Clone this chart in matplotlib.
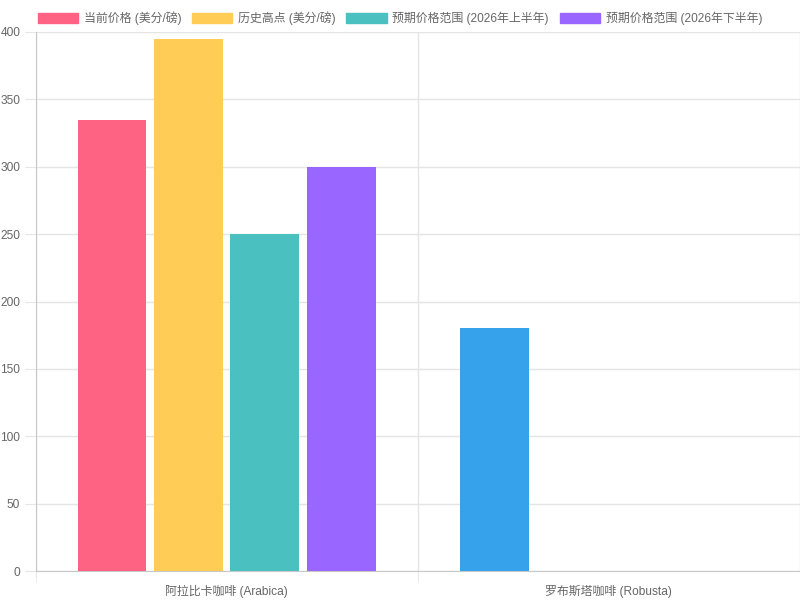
import matplotlib.pyplot as plt
from matplotlib.patches import Patch
import numpy as np

plt.rcParams['font.family'] = ['Liberation Sans', 'Noto Sans CJK SC', 'DejaVu Sans']

categories = ['阿拉比卡咖啡 (Arabica)', '罗布斯塔咖啡 (Robusta)']
series_names = ['当前价格 (美分/磅)', '历史高点 (美分/磅)',
                '预期价格范围 (2026年上半年)', '预期价格范围 (2026年下半年)']
current = [335, 180]
high = [395, 0]
h1_2026 = [250, 0]
h2_2026 = [300, 0]
series = [current, high, h1_2026, h2_2026]
legend_colors = ['#FF6384', '#FFCD56', '#4BC0C0', '#9966FF']
bar_colors = [['#FF6384', '#36A2EB'], ['#FFCD56'] * 2, ['#4BC0C0'] * 2, ['#9966FF'] * 2]
yticks = [0, 50, 100, 150, 200, 250, 300, 350, 400]

fs = 8.6

fig = plt.figure(figsize=(8, 6), dpi=100)
ax = fig.add_axes([35.5 / 800, 29 / 600, 764.5 / 800, 539 / 600])

x = np.arange(len(categories))
slot = 0.8 / 4
width = slot * 0.9
for i, vals in enumerate(series):
    offs = -0.4 + slot * (i + 0.5)
    ax.bar(x + offs, vals, width, color=bar_colors[i], zorder=3)

ax.set_xlim(-0.5, 1.5)
ax.set_ylim(0, 400)
ax.set_yticks(yticks)
ax.set_xticks(x)
ax.set_xticklabels(categories)
ax.set_xticks([-0.5, 0.5, 1.5], minor=True)

ax.grid(axis='y', color='#e5e5e5', linewidth=1, zorder=0)
ax.grid(axis='x', which='minor', color='#e5e5e5', linewidth=1, zorder=0)
ax.grid(axis='x', which='major', visible=False)
for s in ['top', 'right']:
    ax.spines[s].set_visible(False)
for s in ['left', 'bottom']:
    ax.spines[s].set_color('#c8c8c8')
ax.tick_params(axis='y', colors='#e5e5e5', labelcolor='#666666', labelsize=fs, length=8, pad=3)
ax.tick_params(axis='x', which='major', length=0, labelcolor='#666666', labelsize=fs, pad=10)
ax.tick_params(axis='x', which='minor', colors='#e5e5e5', length=8)

handles = [Patch(facecolor=c, edgecolor=c) for c in legend_colors]
fig.legend(handles, series_names, loc='upper center', bbox_to_anchor=(0.5, 0.9995),
           ncol=4, frameon=False, fontsize=fs, labelcolor='#666666',
           handlelength=3.35, handleheight=0.95, handletextpad=0.5, columnspacing=0.9)

fig.savefig('out.png', dpi=100)
